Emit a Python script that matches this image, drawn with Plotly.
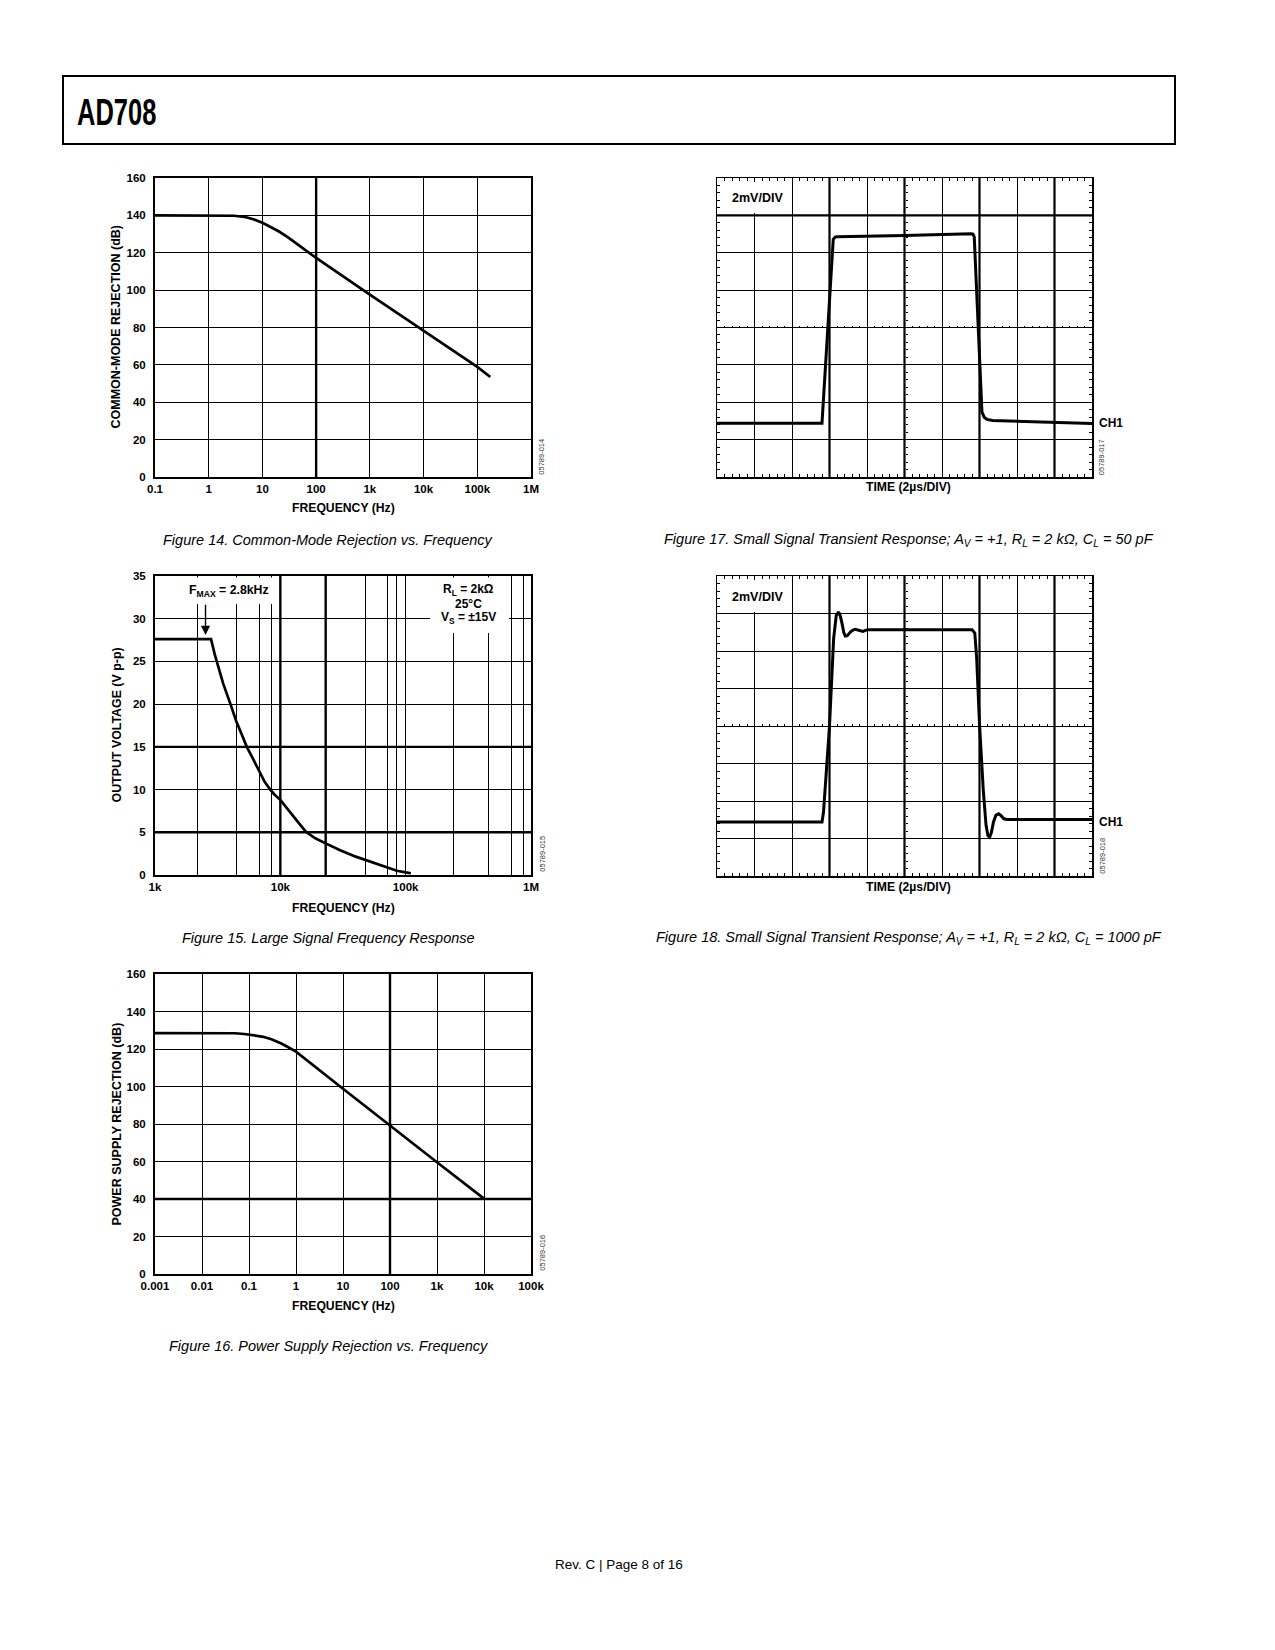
import math
import plotly.graph_objects as go

PAGE_W, PAGE_H = 1275, 1650
OFF = 8                      # default body margin of the html page
W, H = PAGE_W - 2 * OFF, PAGE_H - 2 * OFF - 4


def px(x):
    return (x - OFF) / W


def py(y):
    return 1 - (y - OFF) / H


# ---------------- data ----------------
# Figure 14 : common-mode rejection vs frequency
cmr_freq = [0.1, 1, 2, 3, 5, 7, 10, 15, 20, 30, 50, 100, 1000, 10000, 100000, 175000]
cmr_db = [140, 140, 140, 139.8, 139, 137.8, 136, 133.6, 131.5, 128.2, 123.5, 117.2, 97.6, 78.1, 58.9, 53.5]
cmr_ticks = [0.1, 1, 10, 100, 1000, 10000, 100000, 1000000]
cmr_ticktext = ["0.1", "1", "10", "100", "1k", "10k", "100k", "1M"]

# Figure 15 : large signal frequency response
lsf_freq = [1000, 2800, 3000, 3500, 4000, 4450, 5000, 5400, 6000, 6800, 7500, 8300, 9000,
            10000, 12000, 14000, 16000, 19000, 23000, 30000, 40000, 48000, 60000, 70000,
            85000, 100000, 110000]
lsf_vpp = [27.6, 27.6, 25.8, 22.4, 20, 18, 16.2, 15, 13.7, 12.1, 10.9, 10, 9.4,
           8.8, 7.4, 6.1, 5.05, 4.3, 3.7, 2.9, 2.15, 1.75, 1.25, 0.86,
           0.5, 0.3, 0.2]
lsf_grid = [1000, 2200, 4450, 6800, 8500, 10000, 23000, 48000, 71000, 84000, 100000,
            240000, 460000, 700000, 870000, 1000000]
lsf_labels = {1000: "1k", 10000: "10k", 100000: "100k", 1000000: "1M"}

# Figure 16 : power supply rejection vs frequency
psr_freq = [0.001, 0.01, 0.03, 0.05, 0.08, 0.1, 0.15, 0.2, 0.3, 0.4, 0.5, 0.7, 0.85, 1, 10, 100, 1000, 10000]
psr_db = [128.5, 128.5, 128.5, 128.4, 128.0, 127.7, 127.2, 126.5, 125.2, 124.0, 122.8, 120.8, 119.7, 118.6,
          98.8, 79, 59.6, 40.2]
psr_ticks = [0.001, 0.01, 0.1, 1, 10, 100, 1000, 10000, 100000]
psr_ticktext = ["0.001", "0.01", "0.1", "1", "10", "100", "1k", "10k", "100k"]

# Figure 17 : small signal transient, CL = 50 pF (time in us, voltage in mV)
t17 = [0, 5.6, 6.2, 6.3, 6.4, 10, 13.55, 13.65, 13.72, 14.13, 14.25, 14.4, 14.7, 18, 20]
v17 = [-5.12, -5.12, 4.72, 4.84, 4.86, 4.92, 5.02, 5.0, 4.85, -4.52, -4.8, -4.92, -4.98, -5.09, -5.14]

# Figure 18 : small signal transient, CL = 1000 pF
t18 = [0, 5.6, 5.68, 6.0, 6.22, 6.36, 6.49, 6.58, 6.67, 6.76, 6.84, 6.95, 7.11, 7.25, 7.38,
       7.52, 7.64, 7.78, 7.91, 8.1, 13.6, 13.75, 13.85, 14.0, 14.2, 14.35, 14.45, 14.54,
       14.63, 14.75, 14.88, 15.02, 15.15, 15.3, 15.45, 20]
v18 = [-5.12, -5.12, -4.6, 0.0, 4.66, 5.9, 6.08, 5.85, 5.46, 5.0, 4.8, 4.82, 5.01, 5.12, 5.16,
       5.12, 5.05, 5.04, 5.1, 5.14, 5.14, 4.95, 3.6, 0.1, -3.4, -5.3, -5.85, -5.92,
       -5.7, -5.1, -4.75, -4.68, -4.78, -4.95, -4.99, -4.98]

# ---------------- style ----------------
FONT = "Liberation Sans, Arial, sans-serif"
TICKFONT = dict(family=FONT, size=11.5, color="black", weight="bold")
CURVE = dict(color="black", width=2.7)

# plot areas in page pixels (left, right, top, bottom)
P14 = (155, 531, 178, 477)
P15 = (155, 531, 576, 875)
P16 = (155, 531, 974, 1274)
P17 = (717, 1092, 178, 477)
P18 = (717, 1092, 576, 876)


def xdom(p):
    return [px(p[0]), px(p[1])]


def ydom(p):
    return [py(p[3]), py(p[2])]


def bode_x(p, rng, vals, text, anchor):
    return dict(domain=xdom(p), type="log", range=rng, tickmode="array", tickvals=vals,
                ticktext=text, showgrid=True, gridcolor="black", gridwidth=1, showline=True,
                linecolor="black", linewidth=2, mirror=True, ticks="", zeroline=False,
                tickfont=TICKFONT, anchor=anchor, fixedrange=True, automargin=False)


def bode_y(p, rng, dtick, anchor):
    return dict(domain=ydom(p), range=rng, tickmode="linear", tick0=0, dtick=dtick,
                showgrid=True, gridcolor="black", gridwidth=1, showline=True,
                linecolor="black", linewidth=2, mirror=True, ticks="", zeroline=False,
                tickfont=TICKFONT, anchor=anchor, fixedrange=True, ticklabelstandoff=5,
                automargin=False)


def scope_x(p, anchor):
    return dict(domain=xdom(p), range=[0, 20], tickmode="linear", tick0=0, dtick=2,
                showgrid=True, gridcolor="black", gridwidth=1, showline=True,
                linecolor="black", linewidth=1.5, mirror="ticks", ticks="inside", ticklen=3,
                tickcolor="black", tickwidth=1,
                minor=dict(tick0=0, dtick=0.4, ticks="inside", ticklen=3, tickcolor="black",
                           tickwidth=1, showgrid=False),
                showticklabels=False, zeroline=False, anchor=anchor, fixedrange=True,
                automargin=False)


def scope_y(p, anchor):
    return dict(domain=ydom(p), range=[-8, 8], tickmode="linear", tick0=0, dtick=2,
                showgrid=True, gridcolor="black", gridwidth=1, showline=True,
                linecolor="black", linewidth=1.5, mirror="ticks", ticks="inside", ticklen=3,
                tickcolor="black", tickwidth=1,
                minor=dict(tick0=0, dtick=0.4, ticks="inside", ticklen=3, tickcolor="black",
                           tickwidth=1, showgrid=False),
                showticklabels=False, zeroline=False, anchor=anchor, fixedrange=True,
                automargin=False)


def center_x(p, over):
    return dict(overlaying=over, anchor="free", position=(py(p[2]) + py(p[3])) / 2,
                side="bottom", range=[0, 20], tickmode="linear", tick0=0, dtick=2,
                showgrid=False, showline=False, ticks="inside", ticklen=2, tickcolor="black",
                tickwidth=1, minor=dict(tick0=0, dtick=0.4, ticks="inside", ticklen=2,
                                        tickcolor="black", tickwidth=1, showgrid=False),
                showticklabels=False, zeroline=False, fixedrange=True, automargin=False)


def center_y(p, over):
    return dict(overlaying=over, anchor="free", position=(px(p[0]) + px(p[1])) / 2,
                side="left", range=[-8, 8], tickmode="linear", tick0=0, dtick=2,
                showgrid=False, showline=False, ticks="inside", ticklen=2, tickcolor="black",
                tickwidth=1, minor=dict(tick0=0, dtick=0.4, ticks="inside", ticklen=2,
                                        tickcolor="black", tickwidth=1, showgrid=False),
                showticklabels=False, zeroline=False, fixedrange=True, automargin=False)


fig = go.Figure()
fig.add_trace(go.Scatter(x=cmr_freq, y=cmr_db, mode="lines", line=CURVE, xaxis="x", yaxis="y",
                         hoverinfo="skip"))
fig.add_trace(go.Scatter(x=lsf_freq, y=lsf_vpp, mode="lines", line=CURVE, xaxis="x2", yaxis="y2",
                         hoverinfo="skip"))
fig.add_trace(go.Scatter(x=psr_freq, y=psr_db, mode="lines", line=CURVE, xaxis="x3", yaxis="y3",
                         hoverinfo="skip"))
fig.add_trace(go.Scatter(x=t17, y=v17, mode="lines", line=dict(color="black", width=3),
                         xaxis="x4", yaxis="y4", hoverinfo="skip"))
fig.add_trace(go.Scatter(x=t18, y=v18, mode="lines", line=dict(color="black", width=3),
                         xaxis="x5", yaxis="y5", hoverinfo="skip"))
# empty traces so that the graticule centre-line tick axes are drawn
for xa, ya in [("x6", "y4"), ("x4", "y6"), ("x7", "y5"), ("x5", "y7")]:
    fig.add_trace(go.Scatter(x=[None], y=[None], mode="lines", xaxis=xa, yaxis=ya,
                             hoverinfo="skip"))

lsf_text = [lsf_labels.get(v, "") for v in lsf_grid]

layout = dict(
    width=W, height=H, margin=dict(l=0, r=0, t=0, b=0, pad=0, autoexpand=False),
    paper_bgcolor="white", plot_bgcolor="white", showlegend=False,
    xaxis=bode_x(P14, [-1, 6], cmr_ticks, cmr_ticktext, "y"),
    yaxis=bode_y(P14, [0, 160], 20, "x"),
    xaxis2=bode_x(P15, [3, 6], lsf_grid, lsf_text, "y2"),
    yaxis2=bode_y(P15, [0, 35], 5, "x2"),
    xaxis3=bode_x(P16, [-3, 5], psr_ticks, psr_ticktext, "y3"),
    yaxis3=bode_y(P16, [0, 160], 20, "x3"),
    xaxis4=scope_x(P17, "y4"),
    yaxis4=scope_y(P17, "x4"),
    xaxis5=scope_x(P18, "y5"),
    yaxis5=scope_y(P18, "x5"),
    xaxis6=center_x(P17, "x4"),
    yaxis6=center_y(P17, "y4"),
    xaxis7=center_x(P18, "x5"),
    yaxis7=center_y(P18, "y5"),
)
fig.update_layout(**layout)

shapes = []
# page header box
shapes.append(dict(type="rect", xref="paper", yref="paper", x0=px(63), x1=px(1175), y0=py(144),
                   y1=py(76), line=dict(color="black", width=2), fillcolor="rgba(0,0,0,0)"))


def vthick(xref, val, w=2.4):
    return dict(type="line", xref=xref, yref=xref.replace("x", "y") + " domain", x0=val, x1=val,
                y0=0, y1=1, line=dict(color="black", width=w))


def hthick(yref, val, w=2.4):
    return dict(type="line", yref=yref, xref=yref.replace("y", "x") + " domain", y0=val, y1=val,
                x0=0, x1=1, line=dict(color="black", width=w))


shapes.append(vthick("x", 100))
shapes.append(vthick("x2", 10000))
shapes.append(vthick("x2", 23000))
shapes.append(hthick("y2", 5))
shapes.append(hthick("y2", 15))
shapes.append(vthick("x3", 100))
shapes.append(hthick("y3", 40))
for xr in ("x4", "x5"):
    for v in (6, 10, 14, 18):
        shapes.append(vthick(xr, v, 2.2))
shapes.append(hthick("y4", 6, 2.2))


def white_box(x0, x1, y0, y1):
    return dict(type="rect", xref="paper", yref="paper", x0=px(x0), x1=px(x1), y0=py(y1),
                y1=py(y0), line=dict(width=0), fillcolor="white")


shapes.append(white_box(186, 274, 577.5, 604))   # F_MAX label area
shapes.append(white_box(430, 509, 577.5, 633))   # RL / 25C / VS label area
shapes.append(white_box(721, 790, 182, 213))     # 2mV/DIV (fig 17)
shapes.append(white_box(721, 790, 580, 612))     # 2mV/DIV (fig 18)
fig.update_layout(shapes=shapes)


def ann(text, x, y, size=11.5, bold=True, family=FONT, xanchor="center", yanchor="middle",
        angle=0, color="black", italic=False):
    return dict(text=text, x=px(x), y=py(y), xref="paper", yref="paper", showarrow=False,
                xanchor=xanchor, yanchor=yanchor, textangle=angle,
                font=dict(family=family, size=size, color=color,
                          weight="bold" if bold else "normal",
                          style="italic" if italic else "normal"))


anns = []
anns.append(ann("AD708", 75, 112.5, size=37.5, xanchor="left"))
# axis titles
anns.append(ann("FREQUENCY (Hz)", 343, 508, size=12.2))
anns.append(ann("COMMON-MODE REJECTION (dB)", 116, 327.5, angle=-90, size=12.5))
anns.append(ann("FREQUENCY (Hz)", 343, 908, size=12.2))
anns.append(ann("OUTPUT VOLTAGE (V p-p)", 116.5, 725, angle=-90, size=12.4))
anns.append(ann("FREQUENCY (Hz)", 343, 1306, size=12.2))
anns.append(ann("POWER SUPPLY REJECTION (dB)", 116.5, 1124, angle=-90, size=12.5))
anns.append(ann("TIME (2µs/DIV)", 908, 487.5, size=12.2))
anns.append(ann("TIME (2µs/DIV)", 908, 886.5, size=12.2))
# scope labels
anns.append(ann("2mV/DIV", 730, 197.5, xanchor="left", size=12.5))
anns.append(ann("2mV/DIV", 730, 597, xanchor="left", size=12.5))
anns.append(ann("CH1", 1097, 423, xanchor="left", size=12))
anns.append(ann("CH1", 1097, 822, xanchor="left", size=12))
# fig 15 labels
anns.append(ann("F<sub>MAX</sub> = 2.8kHz", 229, 591, size=12.3))
anns.append(ann("R<sub>L</sub> = 2kΩ", 468, 590, size=12))
anns.append(ann("25°C", 468, 604, size=12))
anns.append(ann("V<sub>S</sub> = ±15V", 468, 618, size=12))
anns.append(dict(text="", x=math.log10(2530), y=28.1, xref="x2", yref="y2", showarrow=True,
                 ax=math.log10(2530), ay=31.8, axref="x2", ayref="y2", arrowhead=2,
                 arrowsize=1.3, arrowwidth=1.4, arrowcolor="black", standoff=0))
# figure ids
for txt, x, y in [("05789-014", 541.7, 457), ("05789-015", 541.7, 854), ("05789-016", 541.7, 1253),
                  ("05789-017", 1101.7, 457.5), ("05789-018", 1101.7, 856)]:
    anns.append(ann(txt, x, y, size=7.5, bold=False, angle=-90, color="#333333"))
# captions
anns.append(ann("Figure 14. Common-Mode Rejection vs. Frequency", 327.5, 539.5, size=14.5,
                bold=False, italic=True))
anns.append(ann("Figure 15. Large Signal Frequency Response", 328, 937.5, size=14.5,
                bold=False, italic=True))
anns.append(ann("Figure 16. Power Supply Rejection vs. Frequency", 328, 1345.5, size=14.5,
                bold=False, italic=True))
anns.append(ann("Figure 17. Small Signal Transient Response; A<sub>V</sub> = +1, "
                "R<sub>L</sub> = 2 kΩ, C<sub>L</sub> = 50 pF", 909, 539.5, size=14.5,
                bold=False, italic=True))
anns.append(ann("Figure 18. Small Signal Transient Response; A<sub>V</sub> = +1, "
                "R<sub>L</sub> = 2 kΩ, C<sub>L</sub> = 1000 pF", 909, 937.5, size=14.5,
                bold=False, italic=True))
anns.append(ann("Rev. C | Page 8 of 16", 619, 1564, size=13.5, bold=False))
fig.update_layout(annotations=anns)

POST = """
try {
  document.querySelectorAll('text.annotation-text').forEach(function (t) {
    if (t.textContent === 'AD708') {
      var b = t.getBBox();
      t.setAttribute('transform', 'translate(' + b.x + ',0) scale(0.68,1) translate(' + (-b.x) + ',0)');
    }
  });
} catch (e) {}
"""

fig.write_html("out.html", post_script=POST,
               config={"displayModeBar": False, "staticPlot": True, "responsive": False})
